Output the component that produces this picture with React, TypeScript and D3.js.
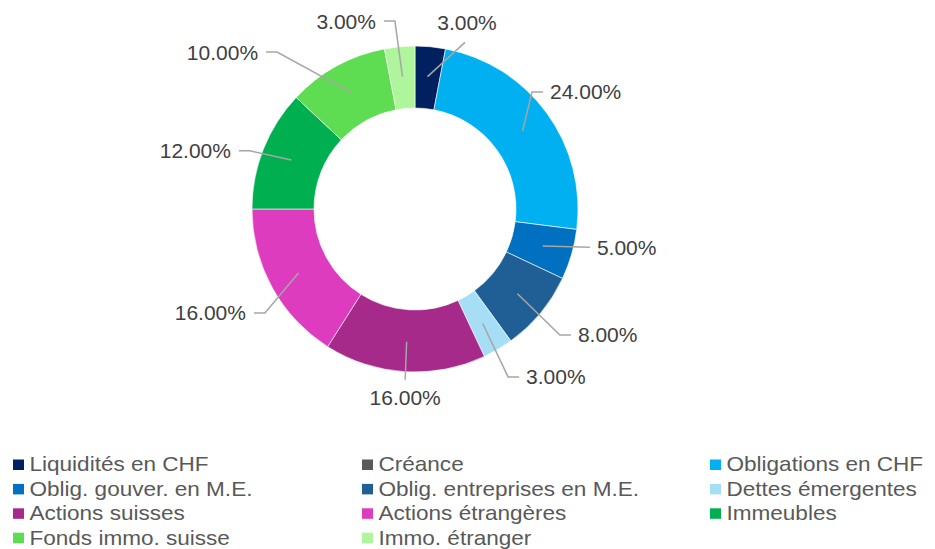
import * as d3 from "d3";
import { useEffect, useRef } from "react";

// categories + values (percent)
const categories = [
  "Liquidités en CHF",
  "Créance",
  "Obligations en CHF",
  "Oblig. gouver. en M.E.",
  "Oblig. entreprises en M.E.",
  "Dettes émergentes",
  "Actions suisses",
  "Actions étrangères",
  "Immeubles",
  "Fonds immo. suisse",
  "Immo. étranger",
];
const values = [3, 0, 24, 5, 8, 3, 16, 16, 12, 10, 3];
const colors = [
  "#002060",
  "#595959",
  "#00B0F0",
  "#0070C0",
  "#1F5F95",
  "#A5DEF5",
  "#A52A8A",
  "#DD3CBE",
  "#00B050",
  "#5FDD52",
  "#AEF59C",
];

// label placement (elbow of the leader line, polar: degrees clockwise from top, radius)
const labelAngle = [16.7, null, 45, 102.3, 131, 151, 183.3, 235.3, 289.4, 318.7, 353.9];
const labelRadius = [174, null, 165.5, 179, 192, 192, 171, 182.5, 175, 209, 189];
const labelSide = ["top", null, "right", "right", "right", "right", "bottom", "left", "left", "left", "left"];

export default function App() {
  const ref = useRef<SVGSVGElement>(null);

  useEffect(() => {
    const width = 935, height = 549;
    const cx = 415, cy = 209;
    const outer = 163, inner = 101;
    const font = "'Liberation Sans', Arial, sans-serif";

    const svg = d3.select(ref.current);
    svg.selectAll("*").remove();
    svg.attr("width", width).attr("height", height);

    const data = categories.map((name, i) => ({ name, value: values[i], i }));

    const pie = d3.pie<any>().value(d => d.value).sort(null).startAngle(0);
    const arcs = pie(data);

    const arc = d3.arc<any>().innerRadius(inner).outerRadius(outer);
    const mid = d3.arc<any>().innerRadius(133).outerRadius(133);

    const g = svg.append("g").attr("transform", `translate(${cx},${cy})`);

    g.selectAll("path.slice")
      .data(arcs.filter(d => d.value > 0))
      .enter()
      .append("path")
      .attr("class", "slice")
      .attr("d", arc)
      .attr("fill", d => colors[d.data.i])
      .attr("stroke", "white")
      .attr("stroke-width", 0.6);

    const polar = (deg: number, r: number) => {
      const a = (deg * Math.PI) / 180;
      return [r * Math.sin(a), -r * Math.cos(a)];
    };

    const labelled = arcs.filter(d => d.value > 0);

    labelled.forEach(d => {
      const i = d.data.i;
      const [ax, ay] = mid.centroid(d);
      const [ex, ey] = polar(labelAngle[i]!, labelRadius[i]!);
      const side = labelSide[i];
      const pts: [number, number][] = [[ax, ay], [ex, ey]];
      let tx = ex, ty = ey, anchor = "middle";
      if (side === "right") {
        if (i !== 3) pts.push([ex + 11, ey]);
        const last = pts[pts.length - 1];
        tx = last[0] + 7; ty = last[1]; anchor = "start";
      } else if (side === "left") {
        pts.push([ex - 11, ey]);
        tx = ex - 19; ty = ey; anchor = "end";
      } else if (side === "top") {
        tx = ex + 2; ty = ey - 20;
      } else {
        ty = ey + 18;
      }

      g.append("path")
        .attr("d", d3.line()(pts))
        .attr("fill", "none")
        .attr("stroke", "#A6A6A6")
        .attr("stroke-width", 1.5);

      g.append("text")
        .attr("x", tx)
        .attr("y", ty + 7.5)
        .attr("text-anchor", anchor)
        .attr("font-family", font)
        .attr("font-size", 21)
        .attr("fill", "#404040")
        .text(d3.format(".2f")(d.data.value) + "%");
    });

    // legend, 3 columns
    const colX = [13, 362, 710];
    const rowY = d3.range(4).map(r => 464 + r * 24.4);
    const legend = svg
      .selectAll("g.legend")
      .data(data)
      .enter()
      .append("g")
      .attr("class", "legend")
      .attr("transform", d => `translate(${colX[d.i % 3]},${rowY[Math.floor(d.i / 3)]})`);

    legend
      .append("rect")
      .attr("x", 0)
      .attr("y", -4.5)
      .attr("width", 11)
      .attr("height", 10.5)
      .attr("fill", d => colors[d.i]);

    // legend text in the reference is a bit wider than Liberation Sans
    legend
      .append("text")
      .attr("transform", "translate(16.5,7.3) scale(1.1,1)")
      .attr("font-family", font)
      .attr("font-size", 20.5)
      .attr("fill", "#595959")
      .text(d => d.name);
  }, []);

  return (
    <svg ref={ref} style={{ position: "absolute", left: 0, top: 0, background: "white" }}></svg>
  );
}
